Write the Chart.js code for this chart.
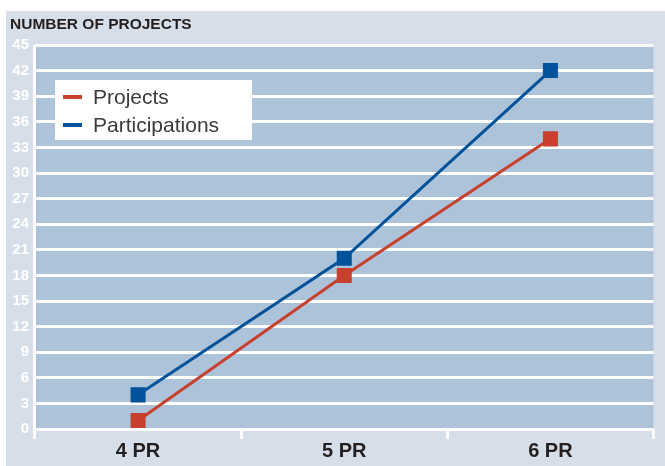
<!DOCTYPE html>
<html>
<head>
<meta charset="utf-8">
<script src="https://cdn.jsdelivr.net/npm/chart.js@4"></script>
<style>
  html, body { margin: 0; padding: 0; background: #ffffff; }
  #wrap { width: 665px; height: 466px; }
</style>
</head>
<body>
<div id="wrap"><canvas id="myChart" width="665" height="466"></canvas></div>
<script>
// data
const categories = ["4 PR", "5 PR", "6 PR"];
const projects = [1, 18, 34];
const participations = [4, 20, 42];
const chartTitle = "NUMBER OF PROJECTS";

const FONT = "'Liberation Sans', Arial, sans-serif";

// panel background, plot background and title
const backdrop = {
  id: "backdrop",
  beforeDraw(chart) {
    const { ctx, chartArea: a } = chart;
    ctx.save();
    ctx.fillStyle = "#d6dee9";
    ctx.fillRect(6, 11, chart.width - 6, chart.height - 11);
    ctx.fillStyle = "#adc3da";
    ctx.fillRect(a.left, a.top, a.right - a.left, a.bottom - a.top);
    ctx.fillStyle = "#231f20";
    ctx.font = "bold 15.5px " + FONT;
    ctx.textBaseline = "alphabetic";
    ctx.fillText(chartTitle, 10, 29);
    ctx.restore();
  }
};

// white legend box drawn from the datasets
const boxLegend = {
  id: "boxLegend",
  afterDatasetsDraw(chart) {
    const { ctx } = chart;
    ctx.save();
    ctx.fillStyle = "#ffffff";
    ctx.fillRect(55, 80, 197, 60);
    chart.data.datasets.forEach((ds, i) => {
      const y = 97 + i * 28;
      ctx.strokeStyle = ds.borderColor;
      ctx.lineWidth = 4;
      ctx.beginPath();
      ctx.moveTo(63, y);
      ctx.lineTo(82, y);
      ctx.stroke();
      ctx.fillStyle = "#3a3a3a";
      ctx.font = "21px " + FONT;
      ctx.textBaseline = "middle";
      ctx.fillText(ds.label, 93, y + 1);
    });
    ctx.restore();
  }
};

new Chart(document.getElementById("myChart"), {
  type: "line",
  data: {
    labels: categories,
    datasets: [
      {
        label: "Projects",
        data: projects,
        borderColor: "#c8412e",
        backgroundColor: "#c8412e",
        borderWidth: 3,
        pointStyle: "rect",
        pointRadius: 8.5,
        pointHoverRadius: 8.5
      },
      {
        label: "Participations",
        data: participations,
        borderColor: "#00529b",
        backgroundColor: "#00529b",
        borderWidth: 3,
        pointStyle: "rect",
        pointRadius: 8.5,
        pointHoverRadius: 8.5
      }
    ]
  },
  options: {
    responsive: false,
    animation: false,
    layout: { padding: { left: 0, right: 9, top: 45, bottom: 0 } },
    plugins: {
      legend: { display: false },
      tooltip: { enabled: false }
    },
    scales: {
      x: {
        offset: true,
        grid: {
          offset: true,
          drawOnChartArea: true,
          color: (c) => (c.index === 0 || c.index === categories.length) ? "#ffffff" : "rgba(0,0,0,0)",
          tickColor: "#ffffff",
          lineWidth: 3,
          tickWidth: 3,
          tickLength: 10
        },
        border: { display: false },
        ticks: {
          color: "#231f20",
          font: { family: FONT, size: 20, weight: "bold" },
          padding: 0
        },
        afterFit(scale) { scale.height = 37; }
      },
      y: {
        min: 0,
        max: 45,
        grid: {
          color: "#ffffff",
          lineWidth: 3,
          drawTicks: false
        },
        border: { display: false },
        ticks: {
          stepSize: 3,
          color: "#ffffff",
          font: { family: FONT, size: 15, weight: "bold" },
          padding: 6
        },
        afterFit(scale) { scale.width = 35; }
      }
    }
  },
  plugins: [backdrop, boxLegend]
});
</script>
</body>
</html>
